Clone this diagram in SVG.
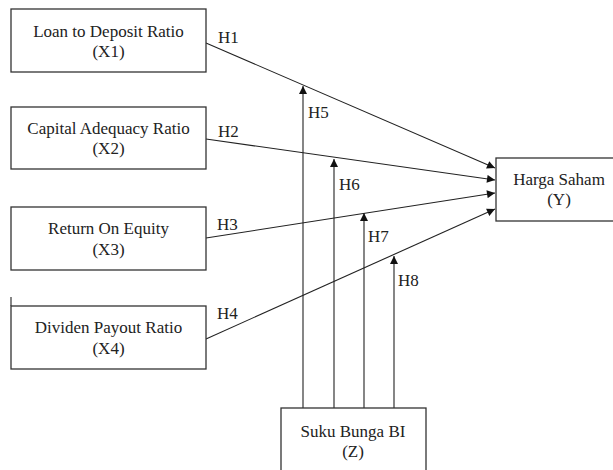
<svg xmlns="http://www.w3.org/2000/svg" width="613" height="470" viewBox="0 0 613 470">
<defs>
<marker id="ah" viewBox="0 0 10 10" refX="10" refY="5" markerWidth="9" markerHeight="8" markerUnits="userSpaceOnUse" orient="auto">
<path d="M0,0 L10,5 L0,10 z" fill="#111"/>
</marker>
<style>
.box{fill:#fff;stroke:#333;stroke-width:1.3}
.t{font-family:'Liberation Serif',Tinos,'DejaVu Serif',serif;font-size:17px;fill:#222;text-anchor:middle}
.lbl{font-family:'Liberation Serif',Tinos,'DejaVu Serif',serif;font-size:17px;fill:#222}
.c{stroke:#222;stroke-width:1.1;fill:none;marker-end:url(#ah)}
.p{stroke:#222;stroke-width:1.1;fill:none}
</style>
</defs>
<rect width="613" height="470" fill="#fff"/>
<g id="connectors">
<line class="c" x1="206" y1="43" x2="495" y2="168"/>
<line class="c" x1="206" y1="139" x2="495" y2="180"/>
<line class="c" x1="206" y1="238" x2="495" y2="193"/>
<line class="c" x1="206" y1="339" x2="495" y2="209"/>
<line class="c" x1="303" y1="408" x2="303" y2="86"/>
<line class="c" x1="334" y1="408" x2="334" y2="159"/>
<line class="c" x1="364" y1="408" x2="364" y2="213"/>
<line class="c" x1="394" y1="408" x2="394" y2="256"/>
<line class="p" x1="11" y1="297" x2="11" y2="306"/>
<text class="lbl" x="218" y="43">H1</text>
<text class="lbl" x="218" y="137">H2</text>
<text class="lbl" x="217" y="230">H3</text>
<text class="lbl" x="217" y="319">H4</text>
<text class="lbl" x="308" y="118">H5</text>
<text class="lbl" x="339" y="190">H6</text>
<text class="lbl" x="368" y="242">H7</text>
<text class="lbl" x="398" y="286">H8</text>
</g>
<g id="x1">
<rect class="box" x="11" y="9" width="195" height="63"/>
<text class="t" x="108.5" y="37">Loan to Deposit Ratio</text>
<text class="t" x="108.5" y="57">(X1)</text>
</g>
<g id="x2">
<rect class="box" x="11" y="107" width="195" height="62"/>
<text class="t" x="108.5" y="134">Capital Adequacy Ratio</text>
<text class="t" x="108.5" y="154">(X2)</text>
</g>
<g id="x3">
<rect class="box" x="11" y="207" width="195" height="63"/>
<text class="t" x="108.5" y="234">Return On Equity</text>
<text class="t" x="108.5" y="255">(X3)</text>
</g>
<g id="x4">
<rect class="box" x="11" y="306" width="195" height="63"/>
<text class="t" x="108.5" y="333">Dividen Payout Ratio</text>
<text class="t" x="108.5" y="354">(X4)</text>
</g>
<g id="y">
<rect class="box" x="496" y="158" width="126" height="63"/>
<text class="t" x="559" y="185">Harga Saham</text>
<text class="t" x="559" y="205">(Y)</text>
</g>
<g id="z">
<rect class="box" x="281" y="408" width="145" height="70"/>
<text class="t" x="353" y="437">Suku Bunga BI</text>
<text class="t" x="353" y="457">(Z)</text>
</g>
</svg>
